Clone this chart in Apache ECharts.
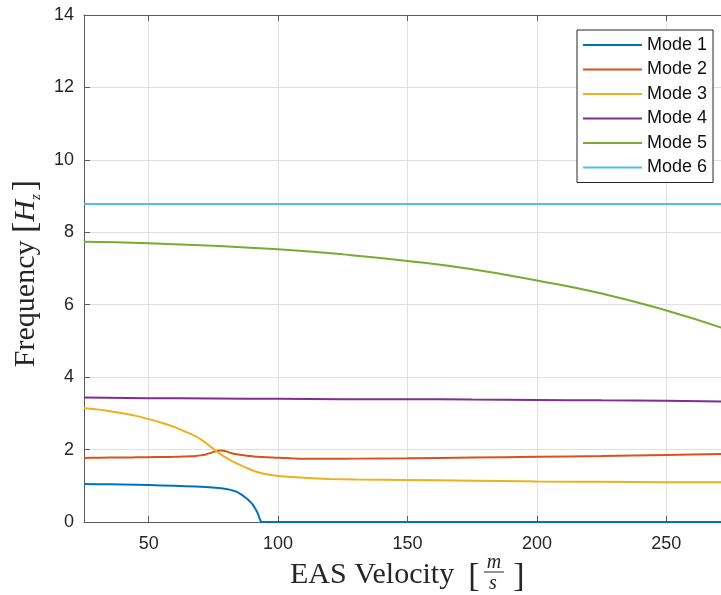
<!DOCTYPE html>
<html>
<head>
<meta charset="utf-8">
<script src="https://cdn.jsdelivr.net/npm/echarts@6/dist/echarts.min.js"></script>
<style>html,body{margin:0;padding:0;background:#fff}#main{width:721px;height:595px}</style>
</head>
<body>
<div id="main"></div>
<script>
// velocity samples (m/s)
var velocityMode1 = [25, 30, 35, 40, 45, 50, 55, 60, 64, 68, 72, 76, 78, 80, 82, 84, 86, 88, 89, 90, 91, 92, 92.5, 93, 93.4, 100, 150, 200, 250, 272];
var velocityFine = [25, 30, 35, 40, 45, 50, 55, 60, 62, 64, 66, 68, 70, 72, 74, 76, 78, 80, 82, 84, 86, 88, 90, 92, 94, 96, 98, 100, 105, 110, 120, 130, 150, 175, 200, 225, 250, 272];
var velocityCoarse = [25, 50, 75, 100, 125, 150, 175, 200, 225, 250, 272];

// frequencies (Hz)
var mode1 = [1.05, 1.045, 1.04, 1.035, 1.03, 1.02, 1.01, 1.00, 0.99, 0.98, 0.965, 0.945, 0.93, 0.91, 0.88, 0.835, 0.75, 0.64, 0.575, 0.50, 0.39, 0.26, 0.17, 0.07, 0, 0, 0, 0, 0, 0];
var mode2 = [1.77, 1.775, 1.78, 1.78, 1.785, 1.79, 1.795, 1.80, 1.805, 1.81, 1.815, 1.825, 1.84, 1.865, 1.91, 1.96, 1.975, 1.95, 1.90, 1.87, 1.85, 1.83, 1.815, 1.80, 1.795, 1.785, 1.78, 1.775, 1.76, 1.745, 1.745, 1.75, 1.76, 1.78, 1.80, 1.82, 1.85, 1.88];
var mode3 = [3.15, 3.11, 3.06, 3.00, 2.93, 2.84, 2.74, 2.62, 2.56, 2.50, 2.44, 2.37, 2.29, 2.19, 2.08, 1.96, 1.86, 1.77, 1.69, 1.62, 1.55, 1.49, 1.43, 1.38, 1.34, 1.31, 1.29, 1.27, 1.24, 1.22, 1.19, 1.175, 1.16, 1.14, 1.12, 1.11, 1.10, 1.10];
var mode4 = [3.44, 3.42, 3.41, 3.40, 3.39, 3.39, 3.38, 3.37, 3.36, 3.35, 3.33];
var mode5 = [7.74, 7.70, 7.63, 7.53, 7.39, 7.21, 6.98, 6.67, 6.31, 5.84, 5.35];
var mode6 = [8.78, 8.78, 8.78, 8.78, 8.78, 8.78, 8.78, 8.78, 8.78, 8.78, 8.78];

var xTicks = [50, 100, 150, 200, 250];

var modeNames = ['Mode 1', 'Mode 2', 'Mode 3', 'Mode 4', 'Mode 5', 'Mode 6'];
var modeColors = ['#0072BD', '#D95319', '#EDB120', '#7E2F8E', '#77AC30', '#4DBEEE'];

function pairs(xs, ys) {
  return xs.map(function (x, i) { return [x, ys[i]]; });
}

var modeData = [
  pairs(velocityMode1, mode1),
  pairs(velocityFine, mode2),
  pairs(velocityFine, mode3),
  pairs(velocityCoarse, mode4),
  pairs(velocityCoarse, mode5),
  pairs(velocityCoarse, mode6)
];
var modeSmooth = [false, 0.3, 0.3, 0.5, 0.5, false];

var axisColor = '#5a5a5a';
var labelFont = 'Liberation Sans, Arial, sans-serif';
var texFont = 'Liberation Serif, DejaVu Serif, serif';

var myChart = echarts.init(document.getElementById('main'));
var option = {
  backgroundColor: '#fff',
  animation: false,
  grid: { left: 84, right: -10, top: 15, bottom: 73, outerBoundsMode: 'none' },
  legend: {
    orient: 'vertical',
    left: 577,
    top: 30,
    padding: [6, 6, 6, 6],
    icon: 'rect',
    itemWidth: 59,
    itemHeight: 2,
    itemGap: 6.5,
    backgroundColor: '#fff',
    borderColor: '#262626',
    borderWidth: 1,
    borderRadius: 0,
    textStyle: { color: '#111', fontSize: 18, fontFamily: labelFont, lineHeight: 18 },
    data: modeNames
  },
  xAxis: [
    {
      type: 'value',
      min: 25,
      max: 275,
      axisLine: { show: true, onZero: false, lineStyle: { color: axisColor, width: 1 } },
      axisTick: { show: true, inside: true, length: 6, lineStyle: { color: axisColor }, customValues: xTicks },
      axisLabel: { color: '#262626', fontSize: 18, fontFamily: labelFont, margin: 13, customValues: xTicks },
      splitLine: { show: true, lineStyle: { color: '#e0e0e0', width: 1 } }
    },
    {
      type: 'value',
      position: 'top',
      min: 25,
      max: 275,
      axisLine: { show: true, onZero: false, lineStyle: { color: axisColor, width: 1 } },
      axisTick: { show: true, inside: true, length: 6, lineStyle: { color: axisColor }, customValues: xTicks },
      axisLabel: { show: false },
      splitLine: { show: false }
    }
  ],
  yAxis: {
    type: 'value',
    min: 0,
    max: 14,
    interval: 2,
    name: '{t|Frequency }{b|[}{i|H}{s|z}{b|]}',
    nameLocation: 'middle',
    nameGap: 40,
    nameRotate: 90,
    nameTextStyle: {
      padding: [0, 0, 0, -10],
      rich: {
        t: { fontSize: 30, fontFamily: texFont, color: '#262626' },
        b: { fontSize: 34, fontFamily: texFont, color: '#262626' },
        i: { fontSize: 30, fontFamily: texFont, fontStyle: 'italic', color: '#262626' },
        s: { fontSize: 15, fontFamily: texFont, fontStyle: 'italic', color: '#262626', verticalAlign: 'bottom', padding: [0, 3, 0, 0] }
      }
    },
    axisLine: { show: true, lineStyle: { color: axisColor, width: 1 } },
    axisTick: { show: true, inside: true, length: 6, lineStyle: { color: axisColor } },
    axisLabel: { color: '#262626', fontSize: 18, fontFamily: labelFont, margin: 10 },
    splitLine: { show: true, lineStyle: { color: '#e0e0e0', width: 1 } }
  },
  graphic: [
    { type: 'text', style: { text: 'EAS Velocity', x: 290, y: 575, font: '30px ' + texFont, fill: '#262626', textAlign: 'left', align: 'left', textVerticalAlign: 'middle', verticalAlign: 'middle' } },
    { type: 'text', style: { text: '[', x: 474, y: 577, font: '34px ' + texFont, fill: '#262626', textAlign: 'center', align: 'center', textVerticalAlign: 'middle', verticalAlign: 'middle' } },
    { type: 'text', style: { text: 'm', x: 494, y: 563, font: 'italic 20px ' + texFont, fill: '#262626', textAlign: 'center', align: 'center', textVerticalAlign: 'middle', verticalAlign: 'middle' } },
    { type: 'line', shape: { x1: 484, y1: 572, x2: 504, y2: 572 }, style: { stroke: '#262626', lineWidth: 1 } },
    { type: 'text', style: { text: 's', x: 493, y: 584, font: 'italic 20px ' + texFont, fill: '#262626', textAlign: 'center', align: 'center', textVerticalAlign: 'middle', verticalAlign: 'middle' } },
    { type: 'text', style: { text: ']', x: 519, y: 577, font: '34px ' + texFont, fill: '#262626', textAlign: 'center', align: 'center', textVerticalAlign: 'middle', verticalAlign: 'middle' } }
  ],
  series: modeNames.map(function (name, i) {
    return {
      name: name,
      type: 'line',
      data: modeData[i],
      symbol: 'none',
      smooth: modeSmooth[i],
      color: modeColors[i],
      lineStyle: { width: 2, color: modeColors[i] }
    };
  })
};
myChart.setOption(option);
</script>
</body>
</html>
